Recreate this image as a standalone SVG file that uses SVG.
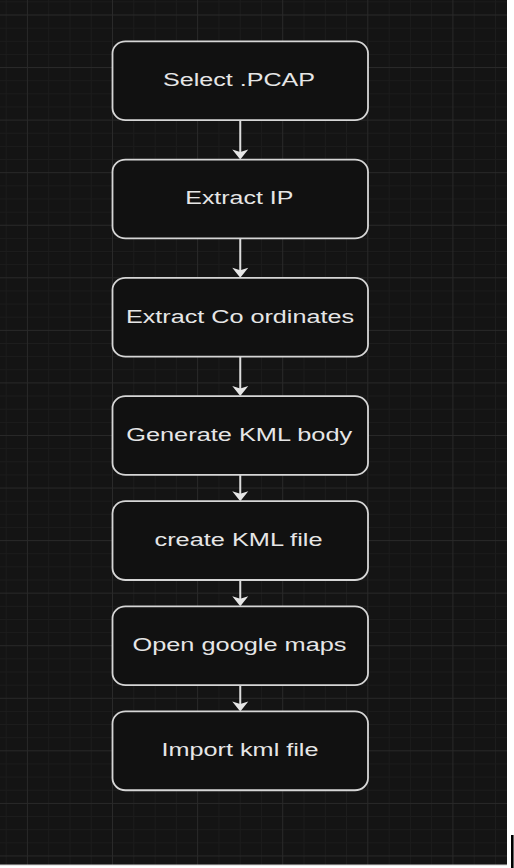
<svg xmlns="http://www.w3.org/2000/svg" width="514" height="868" viewBox="0 0 514 868">
<style>
.minor{stroke:#1d1d1d;stroke-width:1;fill:none}
.major{stroke:#2a2a2a;stroke-width:1;fill:none}
.box{fill:#111111;stroke:#d6d6d6;stroke-width:1.8}
.lbl{font-family:"Liberation Sans",Arial,sans-serif;font-size:17.5px;fill:#e6e6e6;text-anchor:middle}
.edge{stroke:#dcdcdc;stroke-width:2;fill:none;marker-end:url(#arr)}
</style>
<defs>
<marker id="arr" markerUnits="userSpaceOnUse" viewBox="-1 -9 12 18" markerWidth="12" markerHeight="18" refX="8" refY="0" orient="auto">
<path d="M0,-8 L10,0 L0,8 L2.5,0 Z" fill="#e6e6e6"/>
</marker>
</defs>
<rect x="0" y="0" width="514" height="868" fill="#ffffff"/>
<rect x="0" y="0" width="507" height="865" fill="#141414"/>
<g id="grid">
<path class="minor" d="M6.1 0V865M48.7 0V865M70 0V865M91.2 0V865M133.8 0V865M155.1 0V865M176.3 0V865M218.9 0V865M240.2 0V865M261.4 0V865M304 0V865M325.3 0V865M346.5 0V865M389.1 0V865M410.4 0V865M431.6 0V865M474.2 0V865M495.5 0V865
M0 1.86H507M0 28.14H507M0 41.28H507M0 54.42H507M0 80.7H507M0 93.84H507M0 106.98H507M0 133.26H507M0 146.4H507M0 159.54H507M0 185.82H507M0 198.96H507M0 212.1H507M0 238.38H507M0 251.52H507M0 264.66H507M0 290.94H507M0 304.08H507M0 317.22H507M0 343.5H507M0 356.64H507M0 369.78H507M0 396.06H507M0 409.2H507M0 422.34H507M0 448.62H507M0 461.76H507M0 474.9H507M0 501.18H507M0 514.32H507M0 527.46H507M0 553.74H507M0 566.88H507M0 580.02H507M0 606.3H507M0 619.44H507M0 632.58H507M0 658.86H507M0 672H507M0 685.14H507M0 711.42H507M0 724.56H507M0 737.7H507M0 763.98H507M0 777.12H507M0 790.26H507M0 816.54H507M0 829.68H507M0 842.82H507"/>
<path class="major" d="M27.4 0V865M112.5 0V865M197.6 0V865M282.7 0V865M367.8 0V865M452.9 0V865
M0 15H507M0 67.56H507M0 120.12H507M0 172.68H507M0 225.24H507M0 277.8H507M0 330.36H507M0 382.92H507M0 435.48H507M0 488.04H507M0 540.6H507M0 593.16H507M0 645.72H507M0 698.28H507M0 750.84H507M0 803.4H507M0 855.96H507"/>
</g>
<rect x="0" y="864.5" width="507" height="1" fill="#cfcfcf"/>
<rect x="511" y="835" width="2.6" height="33" fill="#000000"/>
<g id="connectors">
<path class="edge" d="M240.25 120.12V157.5"/>
<path class="edge" d="M240.25 238.38V275.8"/>
<path class="edge" d="M240.25 356.64V394"/>
<path class="edge" d="M240.25 474.9V499.2"/>
<path class="edge" d="M240.25 580.02V604.3"/>
<path class="edge" d="M240.25 685.14V709.4"/>
</g>
<g id="n1"><rect class="box" x="112.5" y="41.28" width="255.5" height="78.84" rx="13" ry="12"/><text class="lbl" x="239" y="86.2" textLength="152" lengthAdjust="spacingAndGlyphs">Select .PCAP</text></g>
<g id="n2"><rect class="box" x="112.5" y="159.54" width="255.5" height="78.84" rx="13" ry="12"/><text class="lbl" x="239.3" y="204.4" textLength="108" lengthAdjust="spacingAndGlyphs">Extract IP</text></g>
<g id="n3"><rect class="box" x="112.5" y="277.8" width="255.5" height="78.84" rx="13" ry="12"/><text class="lbl" x="240" y="322.7" textLength="228" lengthAdjust="spacingAndGlyphs">Extract Co ordinates</text></g>
<g id="n4"><rect class="box" x="112.5" y="396.06" width="255.5" height="78.84" rx="13" ry="12"/><text class="lbl" x="239.2" y="440.9" textLength="226" lengthAdjust="spacingAndGlyphs">Generate KML body</text></g>
<g id="n5"><rect class="box" x="112.5" y="501.18" width="255.5" height="78.84" rx="13" ry="12"/><text class="lbl" x="238.5" y="546.1" textLength="168" lengthAdjust="spacingAndGlyphs">create KML file</text></g>
<g id="n6"><rect class="box" x="112.5" y="606.3" width="255.5" height="78.84" rx="13" ry="12"/><text class="lbl" x="239.5" y="651.2" textLength="214" lengthAdjust="spacingAndGlyphs">Open google maps</text></g>
<g id="n7"><rect class="box" x="112.5" y="711.42" width="255.5" height="78.84" rx="13" ry="12"/><text class="lbl" x="240" y="756.3" textLength="157" lengthAdjust="spacingAndGlyphs">Import kml file</text></g>
</svg>
